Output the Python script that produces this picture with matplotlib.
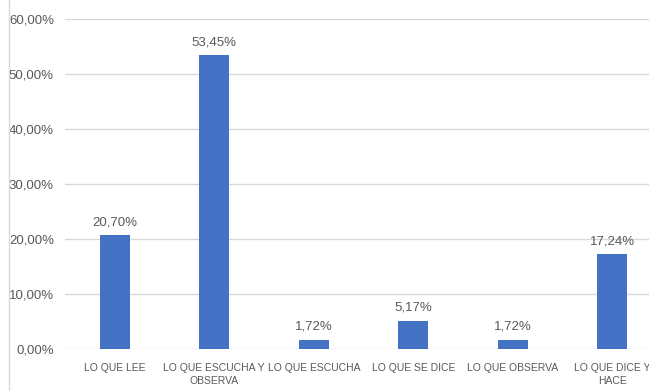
import matplotlib.pyplot as plt
from matplotlib.lines import Line2D

categorias = ["LO QUE LEE", "LO QUE ESCUCHA Y\nOBSERVA", "LO QUE ESCUCHA",
              "LO QUE SE DICE", "LO QUE OBSERVA", "LO QUE DICE Y\nHACE"]
valores = [20.70, 53.45, 1.72, 5.17, 1.72, 17.24]
yticks = [0, 10, 20, 30, 40, 50, 60]

plt.rcParams['font.family'] = ['Liberation Sans', 'DejaVu Sans']
gris = "#595959"

fig = plt.figure(figsize=(6.49, 3.91), dpi=100)
ax = fig.add_axes([65/649, 42/391, 597/649, 330/391])

x = range(len(categorias))
ax.bar(x, valores, width=0.3, color="#4472C4", zorder=3)
for i, v in zip(x, valores):
    ax.annotate(f"{v:.2f}%".replace(".", ","), (i, v), xytext=(0, 5),
                textcoords="offset points", ha="center", va="bottom",
                fontsize=9.5, color=gris)

ax.set_xlim(-0.5, len(categorias) - 0.5)
ax.set_ylim(0, 60)
ax.set_yticks(yticks)
ax.set_yticklabels([f"{t},00%" for t in yticks], fontsize=9.5, color=gris)
ax.set_xticks(list(x))
ax.set_xticklabels(categorias, fontsize=7.5, color=gris, linespacing=1.45)
ax.tick_params(length=0, pad=8)
ax.tick_params(axis='x', pad=10)
ax.grid(axis='y', color="#d9d9d9", linewidth=1, zorder=0)
for s in ax.spines.values():
    s.set_visible(False)

fig.add_artist(Line2D([9/649, 9/649], [0, 1], color="#d9d9d9", linewidth=1))

fig.savefig("out.png", dpi=100)
